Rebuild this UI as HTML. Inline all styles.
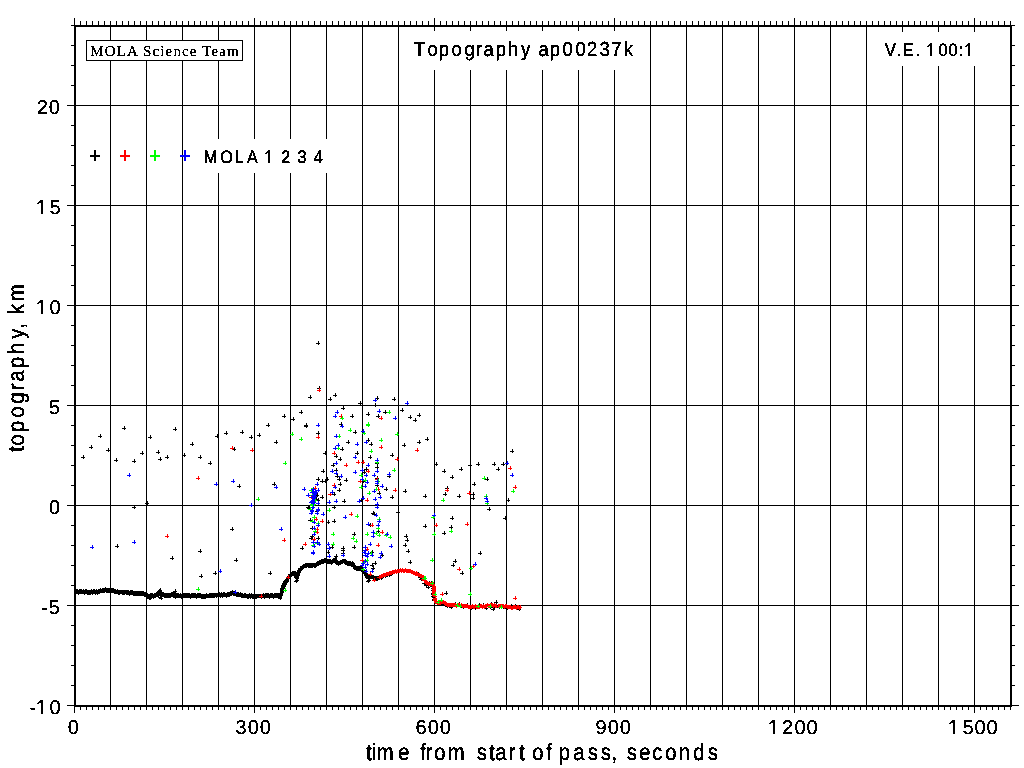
<!DOCTYPE html>
<html><head><meta charset="utf-8"><title>Topography ap00237k</title>
<style>
html,body{margin:0;padding:0;background:#fff;}
body{width:1024px;height:768px;overflow:hidden;position:relative;}
svg{position:absolute;left:0;top:0;}
text{font-family:"Liberation Sans",sans-serif;fill:#000;stroke:#000;stroke-width:0.1px;}
.s{stroke-width:0.1px;}
.c{stroke-width:0.25px;}
.s{font-family:"Liberation Serif",serif;}
</style></head><body>
<svg width="1024" height="768" viewBox="0 0 1024 768" shape-rendering="crispEdges">
<defs><filter id="th" x="0" y="0" width="1024" height="768" filterUnits="userSpaceOnUse" color-interpolation-filters="sRGB"><feComponentTransfer><feFuncA type="discrete" tableValues="0 0 1 1 1"/></feComponentTransfer></filter></defs>
<rect width="1024" height="768" fill="#fff"/>
<path d="M110.5 25V705M146.5 25V705M182.5 25V705M218.5 25V705M254.5 25V705M290.5 25V705M326.5 25V705M362.5 25V705M398.5 25V705M434.5 25V705M470.5 25V705M506.5 25V705M542.5 25V705M578.5 25V705M614.5 25V705M650.5 25V705M686.5 25V705M722.5 25V705M758.5 25V705M794.5 25V705M830.5 25V705M866.5 25V705M902.5 25V705M938.5 25V705M974.5 25V705M75 605.5H1011M75 505.5H1011M75 405.5H1011M75 305.5H1011M75 205.5H1011M75 105.5H1011" stroke="#000" stroke-width="1" fill="none"/>
<path d="M74.5 18V25M74.5 706V713M80.5 21V25M80.5 706V710M86.5 21V25M86.5 706V710M92.5 21V25M92.5 706V710M98.5 21V25M98.5 706V710M104.5 21V25M104.5 706V710M110.5 21V25M110.5 706V710M116.5 21V25M116.5 706V710M122.5 21V25M122.5 706V710M128.5 21V25M128.5 706V710M134.5 21V25M134.5 706V710M140.5 21V25M140.5 706V710M146.5 21V25M146.5 706V710M152.5 21V25M152.5 706V710M158.5 21V25M158.5 706V710M164.5 21V25M164.5 706V710M170.5 21V25M170.5 706V710M176.5 21V25M176.5 706V710M182.5 21V25M182.5 706V710M188.5 21V25M188.5 706V710M194.5 21V25M194.5 706V710M200.5 21V25M200.5 706V710M206.5 21V25M206.5 706V710M212.5 21V25M212.5 706V710M218.5 21V25M218.5 706V710M224.5 21V25M224.5 706V710M230.5 21V25M230.5 706V710M236.5 21V25M236.5 706V710M242.5 21V25M242.5 706V710M248.5 21V25M248.5 706V710M254.5 18V25M254.5 706V713M260.5 21V25M260.5 706V710M266.5 21V25M266.5 706V710M272.5 21V25M272.5 706V710M278.5 21V25M278.5 706V710M284.5 21V25M284.5 706V710M290.5 21V25M290.5 706V710M296.5 21V25M296.5 706V710M302.5 21V25M302.5 706V710M308.5 21V25M308.5 706V710M314.5 21V25M314.5 706V710M320.5 21V25M320.5 706V710M326.5 21V25M326.5 706V710M332.5 21V25M332.5 706V710M338.5 21V25M338.5 706V710M344.5 21V25M344.5 706V710M350.5 21V25M350.5 706V710M356.5 21V25M356.5 706V710M362.5 21V25M362.5 706V710M368.5 21V25M368.5 706V710M374.5 21V25M374.5 706V710M380.5 21V25M380.5 706V710M386.5 21V25M386.5 706V710M392.5 21V25M392.5 706V710M398.5 21V25M398.5 706V710M404.5 21V25M404.5 706V710M410.5 21V25M410.5 706V710M416.5 21V25M416.5 706V710M422.5 21V25M422.5 706V710M428.5 21V25M428.5 706V710M434.5 18V25M434.5 706V713M440.5 21V25M440.5 706V710M446.5 21V25M446.5 706V710M452.5 21V25M452.5 706V710M458.5 21V25M458.5 706V710M464.5 21V25M464.5 706V710M470.5 21V25M470.5 706V710M476.5 21V25M476.5 706V710M482.5 21V25M482.5 706V710M488.5 21V25M488.5 706V710M494.5 21V25M494.5 706V710M500.5 21V25M500.5 706V710M506.5 21V25M506.5 706V710M512.5 21V25M512.5 706V710M518.5 21V25M518.5 706V710M524.5 21V25M524.5 706V710M530.5 21V25M530.5 706V710M536.5 21V25M536.5 706V710M542.5 21V25M542.5 706V710M548.5 21V25M548.5 706V710M554.5 21V25M554.5 706V710M560.5 21V25M560.5 706V710M566.5 21V25M566.5 706V710M572.5 21V25M572.5 706V710M578.5 21V25M578.5 706V710M584.5 21V25M584.5 706V710M590.5 21V25M590.5 706V710M596.5 21V25M596.5 706V710M602.5 21V25M602.5 706V710M608.5 21V25M608.5 706V710M614.5 18V25M614.5 706V713M620.5 21V25M620.5 706V710M626.5 21V25M626.5 706V710M632.5 21V25M632.5 706V710M638.5 21V25M638.5 706V710M644.5 21V25M644.5 706V710M650.5 21V25M650.5 706V710M656.5 21V25M656.5 706V710M662.5 21V25M662.5 706V710M668.5 21V25M668.5 706V710M674.5 21V25M674.5 706V710M680.5 21V25M680.5 706V710M686.5 21V25M686.5 706V710M692.5 21V25M692.5 706V710M698.5 21V25M698.5 706V710M704.5 21V25M704.5 706V710M710.5 21V25M710.5 706V710M716.5 21V25M716.5 706V710M722.5 21V25M722.5 706V710M728.5 21V25M728.5 706V710M734.5 21V25M734.5 706V710M740.5 21V25M740.5 706V710M746.5 21V25M746.5 706V710M752.5 21V25M752.5 706V710M758.5 21V25M758.5 706V710M764.5 21V25M764.5 706V710M770.5 21V25M770.5 706V710M776.5 21V25M776.5 706V710M782.5 21V25M782.5 706V710M788.5 21V25M788.5 706V710M794.5 18V25M794.5 706V713M800.5 21V25M800.5 706V710M806.5 21V25M806.5 706V710M812.5 21V25M812.5 706V710M818.5 21V25M818.5 706V710M824.5 21V25M824.5 706V710M830.5 21V25M830.5 706V710M836.5 21V25M836.5 706V710M842.5 21V25M842.5 706V710M848.5 21V25M848.5 706V710M854.5 21V25M854.5 706V710M860.5 21V25M860.5 706V710M866.5 21V25M866.5 706V710M872.5 21V25M872.5 706V710M878.5 21V25M878.5 706V710M884.5 21V25M884.5 706V710M890.5 21V25M890.5 706V710M896.5 21V25M896.5 706V710M902.5 21V25M902.5 706V710M908.5 21V25M908.5 706V710M914.5 21V25M914.5 706V710M920.5 21V25M920.5 706V710M926.5 21V25M926.5 706V710M932.5 21V25M932.5 706V710M938.5 21V25M938.5 706V710M944.5 21V25M944.5 706V710M950.5 21V25M950.5 706V710M956.5 21V25M956.5 706V710M962.5 21V25M962.5 706V710M968.5 21V25M968.5 706V710M974.5 18V25M974.5 706V713M980.5 21V25M980.5 706V710M986.5 21V25M986.5 706V710M992.5 21V25M992.5 706V710M998.5 21V25M998.5 706V710M1004.5 21V25M1004.5 706V710M1010.5 21V25M1010.5 706V710M67 705.5H74M1012 705.5H1019M71 685.5H74M1012 685.5H1015M71 665.5H74M1012 665.5H1015M71 645.5H74M1012 645.5H1015M71 625.5H74M1012 625.5H1015M67 605.5H74M1012 605.5H1019M71 585.5H74M1012 585.5H1015M71 565.5H74M1012 565.5H1015M71 545.5H74M1012 545.5H1015M71 525.5H74M1012 525.5H1015M67 505.5H74M1012 505.5H1019M71 485.5H74M1012 485.5H1015M71 465.5H74M1012 465.5H1015M71 445.5H74M1012 445.5H1015M71 425.5H74M1012 425.5H1015M67 405.5H74M1012 405.5H1019M71 385.5H74M1012 385.5H1015M71 365.5H74M1012 365.5H1015M71 345.5H74M1012 345.5H1015M71 325.5H74M1012 325.5H1015M67 305.5H74M1012 305.5H1019M71 285.5H74M1012 285.5H1015M71 265.5H74M1012 265.5H1015M71 245.5H74M1012 245.5H1015M71 225.5H74M1012 225.5H1015M67 205.5H74M1012 205.5H1019M71 185.5H74M1012 185.5H1015M71 165.5H74M1012 165.5H1015M71 145.5H74M1012 145.5H1015M71 125.5H74M1012 125.5H1015M67 105.5H74M1012 105.5H1019M71 85.5H74M1012 85.5H1015M71 65.5H74M1012 65.5H1015M71 45.5H74M1012 45.5H1015M71 25.5H74M1012 25.5H1015" stroke="#000" stroke-width="1" fill="none"/>
<path d="M75 25V707M1011 25V707" stroke="#000" stroke-width="2" fill="none"/>
<path d="M74 26H1012M74 706H1012" stroke="#000" stroke-width="2" fill="none"/>
<rect x="405" y="31" width="239" height="39" fill="#fff"/>
<rect x="875" y="32" width="106" height="34" fill="#fff"/>
<rect x="195" y="139" width="138" height="34" fill="#fff"/>
<path d="M315 495.5h4M317.5 493v4M320 497.5h4M322.5 495v4M316 500.5h4M318.5 498v4M314 499.5h4M316.5 497v4M145 503.5h4M147.5 501v4M81 457.5h4M83.5 455v4M89 447.5h4M91.5 445v4M98 436.5h4M100.5 434v4M106 450.5h4M108.5 448v4M114 460.5h4M116.5 458v4M122 428.5h4M124.5 426v4M132 461.5h4M134.5 459v4M140 453.5h4M142.5 451v4M148 437.5h4M150.5 435v4M156 452.5h4M158.5 450v4M158 459.5h4M160.5 457v4M165 457.5h4M167.5 455v4M173 429.5h4M175.5 427v4M182 455.5h4M184.5 453v4M190 444.5h4M192.5 442v4M198 457.5h4M200.5 455v4M208 463.5h4M210.5 461v4M215 436.5h4M217.5 434v4M224 433.5h4M226.5 431v4M232 449.5h4M234.5 447v4M240 432.5h4M242.5 430v4M249 437.5h4M251.5 435v4M257 435.5h4M259.5 433v4M266 425.5h4M268.5 423v4M274 442.5h4M276.5 440v4M282 416.5h4M284.5 414v4M291 419.5h4M293.5 417v4M299 412.5h4M301.5 410v4M304 426.5h4M306.5 424v4M308 397.5h4M310.5 395v4M316 343.5h4M318.5 341v4M237 486.5h4M239.5 484v4M272 484.5h4M274.5 482v4M132 507.5h4M134.5 505v4M115 546.5h4M117.5 544v4M170 558.5h4M172.5 556v4M198 551.5h4M200.5 549v4M199 576.5h4M201.5 574v4M213 573.5h4M215.5 571v4M230 529.5h4M232.5 527v4M234 560.5h4M236.5 558v4M268 573.5h4M270.5 571v4M300 548.5h4M302.5 546v4M317 388.5h4M319.5 386v4M328 399.5h4M330.5 397v4M333 395.5h4M335.5 393v4M358 403.5h4M360.5 401v4M375 398.5h4M377.5 396v4M392 399.5h4M394.5 397v4M341 408.5h4M343.5 406v4M350 416.5h4M352.5 414v4M366 414.5h4M368.5 412v4M383 412.5h4M385.5 410v4M376 416.5h4M378.5 414v4M400 410.5h4M402.5 408v4M408 417.5h4M410.5 415v4M417 415.5h4M419.5 413v4M413 420.5h4M415.5 418v4M339 424.5h4M341.5 422v4M304 425.5h4M306.5 423v4M373 405.5h4M375.5 403v4M316 433.5h4M318.5 431v4M353 432.5h4M355.5 430v4M346 442.5h4M348.5 440v4M340 449.5h4M342.5 447v4M323 453.5h4M325.5 451v4M334 456.5h4M336.5 454v4M338 459.5h4M340.5 457v4M331 465.5h4M333.5 463v4M334 470.5h4M336.5 468v4M321 471.5h4M323.5 469v4M335 476.5h4M337.5 474v4M337 479.5h4M339.5 477v4M344 480.5h4M346.5 478v4M316 479.5h4M318.5 477v4M320 481.5h4M322.5 479v4M323 481.5h4M325.5 479v4M325 479.5h4M327.5 477v4M338 484.5h4M340.5 482v4M337 490.5h4M339.5 488v4M332 494.5h4M334.5 492v4M320 497.5h4M322.5 495v4M342 501.5h4M344.5 499v4M332 507.5h4M334.5 505v4M355 453.5h4M357.5 451v4M366 440.5h4M368.5 438v4M369 444.5h4M371.5 442v4M368 457.5h4M370.5 455v4M375 463.5h4M377.5 461v4M375 467.5h4M377.5 465v4M364 469.5h4M366.5 467v4M362 472.5h4M364.5 470v4M375 478.5h4M377.5 476v4M361 481.5h4M363.5 479v4M375 485.5h4M377.5 483v4M384 489.5h4M386.5 487v4M377 493.5h4M379.5 491v4M390 497.5h4M392.5 495v4M359 500.5h4M361.5 498v4M375 507.5h4M377.5 505v4M371 513.5h4M373.5 511v4M396 512.5h4M398.5 510v4M390 455.5h4M392.5 453v4M387 476.5h4M389.5 474v4M402 445.5h4M404.5 443v4M417 442.5h4M419.5 440v4M425 439.5h4M427.5 437v4M403 491.5h4M405.5 489v4M423 496.5h4M425.5 494v4M306 507.5h4M308.5 505v4M315 511.5h4M317.5 509v4M307 508.5h4M309.5 506v4M308 520.5h4M310.5 518v4M326 522.5h4M328.5 520v4M332 521.5h4M334.5 519v4M310 528.5h4M312.5 526v4M310 536.5h4M312.5 534v4M309 538.5h4M311.5 536v4M316 538.5h4M318.5 536v4M300 548.5h4M302.5 546v4M330 547.5h4M332.5 545v4M326 552.5h4M328.5 550v4M341 548.5h4M343.5 546v4M341 550.5h4M343.5 548v4M341 553.5h4M343.5 551v4M352 534.5h4M354.5 532v4M352 547.5h4M354.5 545v4M372 514.5h4M374.5 512v4M368 525.5h4M370.5 523v4M376 531.5h4M378.5 529v4M370 552.5h4M372.5 550v4M380 555.5h4M382.5 553v4M373 563.5h4M375.5 561v4M370 565.5h4M372.5 563v4M371 568.5h4M373.5 566v4M404 536.5h4M406.5 534v4M405 540.5h4M407.5 538v4M403 545.5h4M405.5 543v4M406 551.5h4M408.5 549v4M408 562.5h4M410.5 560v4M423 526.5h4M425.5 524v4M434 464.5h4M436.5 462v4M442 471.5h4M444.5 469v4M450 477.5h4M452.5 475v4M459 469.5h4M461.5 467v4M468 465.5h4M470.5 463v4M476 464.5h4M478.5 462v4M492 464.5h4M494.5 462v4M496 469.5h4M498.5 467v4M501 464.5h4M503.5 462v4M510 451.5h4M512.5 449v4M485 479.5h4M487.5 477v4M472 484.5h4M474.5 482v4M445 488.5h4M447.5 486v4M443 494.5h4M445.5 492v4M457 496.5h4M459.5 494v4M471 494.5h4M473.5 492v4M471 498.5h4M473.5 496v4M506 500.5h4M508.5 498v4M487 509.5h4M489.5 507v4M449 527.5h4M451.5 525v4M442 533.5h4M444.5 531v4M478 553.5h4M480.5 551v4M453 561.5h4M455.5 559v4M451 565.5h4M453.5 563v4M460 573.5h4M462.5 571v4M444 593.5h4M446.5 591v4M494 602.5h4M496.5 600v4M450 518.5h4M452.5 516v4M503 518.5h4M505.5 516v4" stroke="#000" stroke-width="1" fill="none"/>
<path d="M74 591.5h4M76.5 589v4M74 592.5h4M76.5 590v4M75 591.5h4M77.5 589v4M75 592.5h4M77.5 590v4M76 592.5h4M78.5 590v4M76 593.5h4M78.5 591v4M77 591.5h4M79.5 589v4M77 592.5h4M79.5 590v4M78 591.5h4M80.5 589v4M78 592.5h4M80.5 590v4M79 591.5h4M81.5 589v4M79 592.5h4M81.5 590v4M80 592.5h4M82.5 590v4M80 592.5h4M82.5 590v4M81 591.5h4M83.5 589v4M81 592.5h4M83.5 590v4M82 592.5h4M84.5 590v4M82 593.5h4M84.5 591v4M83 591.5h4M85.5 589v4M83 592.5h4M85.5 590v4M84 591.5h4M86.5 589v4M84 592.5h4M86.5 590v4M85 592.5h4M87.5 590v4M85 593.5h4M87.5 591v4M86 592.5h4M88.5 590v4M86 593.5h4M88.5 591v4M87 592.5h4M89.5 590v4M87 593.5h4M89.5 591v4M88 592.5h4M90.5 590v4M88 593.5h4M90.5 591v4M89 591.5h4M91.5 589v4M89 592.5h4M91.5 590v4M90 592.5h4M92.5 590v4M90 593.5h4M92.5 591v4M91 591.5h4M93.5 589v4M91 592.5h4M93.5 590v4M92 591.5h4M94.5 589v4M92 592.5h4M94.5 590v4M93 592.5h4M95.5 590v4M93 593.5h4M95.5 591v4M94 591.5h4M96.5 589v4M94 592.5h4M96.5 590v4M95 592.5h4M97.5 590v4M95 593.5h4M97.5 591v4M96 591.5h4M98.5 589v4M96 592.5h4M98.5 590v4M97 591.5h4M99.5 589v4M97 592.5h4M99.5 590v4M98 590.5h4M100.5 588v4M98 591.5h4M100.5 589v4M99 591.5h4M101.5 589v4M99 591.5h4M101.5 589v4M100 590.5h4M102.5 588v4M100 591.5h4M102.5 589v4M101 590.5h4M103.5 588v4M101 591.5h4M103.5 589v4M102 590.5h4M104.5 588v4M102 591.5h4M104.5 589v4M103 589.5h4M105.5 587v4M103 590.5h4M105.5 588v4M104 590.5h4M106.5 588v4M104 591.5h4M106.5 589v4M105 590.5h4M107.5 588v4M105 591.5h4M107.5 589v4M106 590.5h4M108.5 588v4M106 591.5h4M108.5 589v4M107 590.5h4M109.5 588v4M107 591.5h4M109.5 589v4M108 591.5h4M110.5 589v4M108 591.5h4M110.5 589v4M109 590.5h4M111.5 588v4M109 591.5h4M111.5 589v4M110 590.5h4M112.5 588v4M110 591.5h4M112.5 589v4M111 590.5h4M113.5 588v4M111 591.5h4M113.5 589v4M112 591.5h4M114.5 589v4M112 592.5h4M114.5 590v4M113 591.5h4M115.5 589v4M113 592.5h4M115.5 590v4M114 592.5h4M116.5 590v4M114 592.5h4M116.5 590v4M115 591.5h4M117.5 589v4M115 592.5h4M117.5 590v4M116 592.5h4M118.5 590v4M116 593.5h4M118.5 591v4M117 592.5h4M119.5 590v4M117 593.5h4M119.5 591v4M118 592.5h4M120.5 590v4M118 592.5h4M120.5 590v4M119 592.5h4M121.5 590v4M119 592.5h4M121.5 590v4M120 592.5h4M122.5 590v4M120 593.5h4M122.5 591v4M121 592.5h4M123.5 590v4M121 593.5h4M123.5 591v4M122 592.5h4M124.5 590v4M122 593.5h4M124.5 591v4M123 592.5h4M125.5 590v4M123 592.5h4M125.5 590v4M124 592.5h4M126.5 590v4M124 593.5h4M126.5 591v4M125 592.5h4M127.5 590v4M125 593.5h4M127.5 591v4M126 592.5h4M128.5 590v4M126 593.5h4M128.5 591v4M127 593.5h4M129.5 591v4M127 594.5h4M129.5 592v4M128 592.5h4M130.5 590v4M128 593.5h4M130.5 591v4M129 592.5h4M131.5 590v4M129 593.5h4M131.5 591v4M130 592.5h4M132.5 590v4M130 593.5h4M132.5 591v4M131 593.5h4M133.5 591v4M131 594.5h4M133.5 592v4M132 593.5h4M134.5 591v4M132 594.5h4M134.5 592v4M133 593.5h4M135.5 591v4M133 594.5h4M135.5 592v4M134 593.5h4M136.5 591v4M134 594.5h4M136.5 592v4M135 593.5h4M137.5 591v4M135 594.5h4M137.5 592v4M136 593.5h4M138.5 591v4M136 594.5h4M138.5 592v4M137 593.5h4M139.5 591v4M137 594.5h4M139.5 592v4M138 593.5h4M140.5 591v4M138 594.5h4M140.5 592v4M139 593.5h4M141.5 591v4M139 594.5h4M141.5 592v4M140 593.5h4M142.5 591v4M140 594.5h4M142.5 592v4M141 593.5h4M143.5 591v4M141 594.5h4M143.5 592v4M142 594.5h4M144.5 592v4M142 595.5h4M144.5 593v4M143 594.5h4M145.5 592v4M143 595.5h4M145.5 593v4M144 594.5h4M146.5 592v4M144 595.5h4M146.5 593v4M145 595.5h4M147.5 593v4M145 596.5h4M147.5 594v4M146 596.5h4M148.5 594v4M146 596.5h4M148.5 594v4M147 596.5h4M149.5 594v4M147 597.5h4M149.5 595v4M148 595.5h4M150.5 593v4M148 596.5h4M150.5 594v4M149 595.5h4M151.5 593v4M149 596.5h4M151.5 594v4M150 595.5h4M152.5 593v4M150 596.5h4M152.5 594v4M151 596.5h4M153.5 594v4M151 597.5h4M153.5 595v4M152 595.5h4M154.5 593v4M152 596.5h4M154.5 594v4M153 595.5h4M155.5 593v4M153 596.5h4M155.5 594v4M154 594.5h4M156.5 592v4M154 595.5h4M156.5 593v4M155 594.5h4M157.5 592v4M155 595.5h4M157.5 593v4M156 594.5h4M158.5 592v4M156 595.5h4M158.5 593v4M157 593.5h4M159.5 591v4M157 594.5h4M159.5 592v4M158 593.5h4M160.5 591v4M158 594.5h4M160.5 592v4M159 593.5h4M161.5 591v4M159 594.5h4M161.5 592v4M160 594.5h4M162.5 592v4M160 595.5h4M162.5 593v4M161 594.5h4M163.5 592v4M161 595.5h4M163.5 593v4M162 595.5h4M164.5 593v4M162 596.5h4M164.5 594v4M163 595.5h4M165.5 593v4M163 596.5h4M165.5 594v4M164 595.5h4M166.5 593v4M164 596.5h4M166.5 594v4M165 595.5h4M167.5 593v4M165 596.5h4M167.5 594v4M166 595.5h4M168.5 593v4M166 596.5h4M168.5 594v4M167 595.5h4M169.5 593v4M167 596.5h4M169.5 594v4M168 595.5h4M170.5 593v4M168 596.5h4M170.5 594v4M169 594.5h4M171.5 592v4M169 595.5h4M171.5 593v4M170 594.5h4M172.5 592v4M170 595.5h4M172.5 593v4M171 594.5h4M173.5 592v4M171 595.5h4M173.5 593v4M172 594.5h4M174.5 592v4M172 595.5h4M174.5 593v4M173 595.5h4M175.5 593v4M173 595.5h4M175.5 593v4M174 595.5h4M176.5 593v4M174 596.5h4M176.5 594v4M175 595.5h4M177.5 593v4M175 596.5h4M177.5 594v4M176 595.5h4M178.5 593v4M176 596.5h4M178.5 594v4M177 596.5h4M179.5 594v4M177 596.5h4M179.5 594v4M178 595.5h4M180.5 593v4M178 596.5h4M180.5 594v4M179 596.5h4M181.5 594v4M179 597.5h4M181.5 595v4M180 595.5h4M182.5 593v4M180 596.5h4M182.5 594v4M181 595.5h4M183.5 593v4M181 596.5h4M183.5 594v4M182 595.5h4M184.5 593v4M182 596.5h4M184.5 594v4M183 595.5h4M185.5 593v4M183 596.5h4M185.5 594v4M184 595.5h4M186.5 593v4M184 596.5h4M186.5 594v4M185 595.5h4M187.5 593v4M185 596.5h4M187.5 594v4M186 595.5h4M188.5 593v4M186 596.5h4M188.5 594v4M187 595.5h4M189.5 593v4M187 596.5h4M189.5 594v4M188 596.5h4M190.5 594v4M188 597.5h4M190.5 595v4M189 595.5h4M191.5 593v4M189 596.5h4M191.5 594v4M190 595.5h4M192.5 593v4M190 596.5h4M192.5 594v4M191 595.5h4M193.5 593v4M191 596.5h4M193.5 594v4M192 595.5h4M194.5 593v4M192 596.5h4M194.5 594v4M193 595.5h4M195.5 593v4M193 596.5h4M195.5 594v4M194 596.5h4M196.5 594v4M194 597.5h4M196.5 595v4M195 595.5h4M197.5 593v4M195 596.5h4M197.5 594v4M196 595.5h4M198.5 593v4M196 596.5h4M198.5 594v4M197 595.5h4M199.5 593v4M197 596.5h4M199.5 594v4M198 595.5h4M200.5 593v4M198 596.5h4M200.5 594v4M199 596.5h4M201.5 594v4M199 597.5h4M201.5 595v4M200 596.5h4M202.5 594v4M200 597.5h4M202.5 595v4M201 596.5h4M203.5 594v4M201 597.5h4M203.5 595v4M202 596.5h4M204.5 594v4M202 597.5h4M204.5 595v4M203 596.5h4M205.5 594v4M203 597.5h4M205.5 595v4M204 595.5h4M206.5 593v4M204 596.5h4M206.5 594v4M205 596.5h4M207.5 594v4M205 596.5h4M207.5 594v4M206 596.5h4M208.5 594v4M206 596.5h4M208.5 594v4M207 595.5h4M209.5 593v4M207 596.5h4M209.5 594v4M208 595.5h4M210.5 593v4M208 596.5h4M210.5 594v4M209 595.5h4M211.5 593v4M209 596.5h4M211.5 594v4M210 595.5h4M212.5 593v4M210 596.5h4M212.5 594v4M211 595.5h4M213.5 593v4M211 596.5h4M213.5 594v4M212 595.5h4M214.5 593v4M212 596.5h4M214.5 594v4M213 595.5h4M215.5 593v4M213 595.5h4M215.5 593v4M214 595.5h4M216.5 593v4M214 596.5h4M216.5 594v4M215 595.5h4M217.5 593v4M215 595.5h4M217.5 593v4M216 595.5h4M218.5 593v4M216 595.5h4M218.5 593v4M217 594.5h4M219.5 592v4M217 595.5h4M219.5 593v4M218 595.5h4M220.5 593v4M218 596.5h4M220.5 594v4M219 594.5h4M221.5 592v4M219 595.5h4M221.5 593v4M220 595.5h4M222.5 593v4M220 596.5h4M222.5 594v4M221 594.5h4M223.5 592v4M221 595.5h4M223.5 593v4M222 594.5h4M224.5 592v4M222 595.5h4M224.5 593v4M223 595.5h4M225.5 593v4M223 595.5h4M225.5 593v4M224 595.5h4M226.5 593v4M224 596.5h4M226.5 594v4M225 594.5h4M227.5 592v4M225 595.5h4M227.5 593v4M226 594.5h4M228.5 592v4M226 595.5h4M228.5 593v4M227 594.5h4M229.5 592v4M227 595.5h4M229.5 593v4M228 593.5h4M230.5 591v4M228 594.5h4M230.5 592v4M229 593.5h4M231.5 591v4M229 594.5h4M231.5 592v4M230 592.5h4M232.5 590v4M230 593.5h4M232.5 591v4M230 592.5h4M232.5 590v4M230 593.5h4M232.5 591v4M231 593.5h4M233.5 591v4M231 594.5h4M233.5 592v4M232 593.5h4M234.5 591v4M232 594.5h4M234.5 592v4M233 593.5h4M235.5 591v4M233 594.5h4M235.5 592v4M234 594.5h4M236.5 592v4M234 595.5h4M236.5 593v4M235 594.5h4M237.5 592v4M235 595.5h4M237.5 593v4M236 594.5h4M238.5 592v4M236 595.5h4M238.5 593v4M237 595.5h4M239.5 593v4M237 595.5h4M239.5 593v4M238 594.5h4M240.5 592v4M238 595.5h4M240.5 593v4M239 595.5h4M241.5 593v4M239 596.5h4M241.5 594v4M240 595.5h4M242.5 593v4M240 596.5h4M242.5 594v4M241 596.5h4M243.5 594v4M241 596.5h4M243.5 594v4M242 595.5h4M244.5 593v4M242 596.5h4M244.5 594v4M243 595.5h4M245.5 593v4M243 596.5h4M245.5 594v4M244 596.5h4M246.5 594v4M244 596.5h4M246.5 594v4M245 596.5h4M247.5 594v4M245 597.5h4M247.5 595v4M246 596.5h4M248.5 594v4M246 597.5h4M248.5 595v4M247 595.5h4M249.5 593v4M247 596.5h4M249.5 594v4M248 596.5h4M250.5 594v4M248 597.5h4M250.5 595v4M249 595.5h4M251.5 593v4M249 596.5h4M251.5 594v4M250 596.5h4M252.5 594v4M250 597.5h4M252.5 595v4M251 596.5h4M253.5 594v4M251 597.5h4M253.5 595v4M252 596.5h4M254.5 594v4M252 597.5h4M254.5 595v4M253 596.5h4M255.5 594v4M253 597.5h4M255.5 595v4M254 596.5h4M256.5 594v4M254 597.5h4M256.5 595v4M255 596.5h4M257.5 594v4M255 596.5h4M257.5 594v4M256 596.5h4M258.5 594v4M256 596.5h4M258.5 594v4M257 596.5h4M259.5 594v4M257 596.5h4M259.5 594v4M258 596.5h4M260.5 594v4M258 596.5h4M260.5 594v4M259 596.5h4M261.5 594v4M259 597.5h4M261.5 595v4M260 596.5h4M262.5 594v4M260 596.5h4M262.5 594v4M261 595.5h4M263.5 593v4M261 596.5h4M263.5 594v4M262 596.5h4M264.5 594v4M262 597.5h4M264.5 595v4M263 595.5h4M265.5 593v4M263 596.5h4M265.5 594v4M264 595.5h4M266.5 593v4M264 596.5h4M266.5 594v4M265 595.5h4M267.5 593v4M265 596.5h4M267.5 594v4M266 595.5h4M268.5 593v4M266 596.5h4M268.5 594v4M267 596.5h4M269.5 594v4M267 597.5h4M269.5 595v4M268 595.5h4M270.5 593v4M268 596.5h4M270.5 594v4M269 595.5h4M271.5 593v4M269 596.5h4M271.5 594v4M270 595.5h4M272.5 593v4M270 596.5h4M272.5 594v4M271 596.5h4M273.5 594v4M271 597.5h4M273.5 595v4M272 595.5h4M274.5 593v4M272 596.5h4M274.5 594v4M273 595.5h4M275.5 593v4M273 596.5h4M275.5 594v4M274 595.5h4M276.5 593v4M274 596.5h4M276.5 594v4M275 595.5h4M277.5 593v4M275 596.5h4M277.5 594v4M276 595.5h4M278.5 593v4M276 596.5h4M278.5 594v4M277 596.5h4M279.5 594v4M277 597.5h4M279.5 595v4M278 597.5h4M280.5 595v4M278 598.5h4M280.5 596v4M278 596.5h4M280.5 594v4M278 596.5h4M280.5 594v4M279 595.5h4M281.5 593v4M279 595.5h4M281.5 593v4M279 594.5h4M281.5 592v4M279 594.5h4M281.5 592v4M279 593.5h4M281.5 591v4M279 594.5h4M281.5 592v4M280 591.5h4M282.5 589v4M280 592.5h4M282.5 590v4M280 591.5h4M282.5 589v4M280 592.5h4M282.5 590v4M280 590.5h4M282.5 588v4M280 590.5h4M282.5 588v4M280 588.5h4M282.5 586v4M280 589.5h4M282.5 587v4M281 587.5h4M283.5 585v4M281 588.5h4M283.5 586v4M281 587.5h4M283.5 585v4M281 588.5h4M283.5 586v4M281 585.5h4M283.5 583v4M281 586.5h4M283.5 584v4M282 585.5h4M284.5 583v4M282 586.5h4M284.5 584v4M282 583.5h4M284.5 581v4M282 584.5h4M284.5 582v4M283 583.5h4M285.5 581v4M283 584.5h4M285.5 582v4M283 581.5h4M285.5 579v4M283 582.5h4M285.5 580v4M284 580.5h4M286.5 578v4M284 581.5h4M286.5 579v4M285 580.5h4M287.5 578v4M285 581.5h4M287.5 579v4M285 579.5h4M287.5 577v4M285 580.5h4M287.5 578v4M286 578.5h4M288.5 576v4M286 578.5h4M288.5 576v4M287 576.5h4M289.5 574v4M287 577.5h4M289.5 575v4M288 575.5h4M290.5 573v4M288 576.5h4M290.5 574v4M288 574.5h4M290.5 572v4M288 575.5h4M290.5 573v4M289 574.5h4M291.5 572v4M289 575.5h4M291.5 573v4M290 573.5h4M292.5 571v4M290 574.5h4M292.5 572v4M291 573.5h4M293.5 571v4M291 574.5h4M293.5 572v4M292 573.5h4M294.5 571v4M292 574.5h4M294.5 572v4M293 573.5h4M295.5 571v4M293 573.5h4M295.5 571v4M294 574.5h4M296.5 572v4M294 575.5h4M296.5 573v4M294 575.5h4M296.5 573v4M294 575.5h4M296.5 573v4M294 576.5h4M296.5 574v4M294 576.5h4M296.5 574v4M294 577.5h4M296.5 575v4M294 577.5h4M296.5 575v4M295 577.5h4M297.5 575v4M295 578.5h4M297.5 576v4M295 576.5h4M297.5 574v4M295 577.5h4M297.5 575v4M295 575.5h4M297.5 573v4M295 576.5h4M297.5 574v4M295 575.5h4M297.5 573v4M295 575.5h4M297.5 573v4M296 574.5h4M298.5 572v4M296 575.5h4M298.5 573v4M296 573.5h4M298.5 571v4M296 573.5h4M298.5 571v4M297 571.5h4M299.5 569v4M297 572.5h4M299.5 570v4M297 570.5h4M299.5 568v4M297 571.5h4M299.5 569v4M298 569.5h4M300.5 567v4M298 570.5h4M300.5 568v4M298 568.5h4M300.5 566v4M298 569.5h4M300.5 567v4M299 568.5h4M301.5 566v4M299 568.5h4M301.5 566v4M300 567.5h4M302.5 565v4M300 568.5h4M302.5 566v4M301 566.5h4M303.5 564v4M301 567.5h4M303.5 565v4M302 566.5h4M304.5 564v4M302 566.5h4M304.5 564v4M303 565.5h4M305.5 563v4M303 566.5h4M305.5 564v4M304 565.5h4M306.5 563v4M304 566.5h4M306.5 564v4M305 565.5h4M307.5 563v4M305 565.5h4M307.5 563v4M306 565.5h4M308.5 563v4M306 566.5h4M308.5 564v4M307 565.5h4M309.5 563v4M307 566.5h4M309.5 564v4M308 565.5h4M310.5 563v4M308 566.5h4M310.5 564v4M309 565.5h4M311.5 563v4M309 566.5h4M311.5 564v4M310 565.5h4M312.5 563v4M310 566.5h4M312.5 564v4M311 565.5h4M313.5 563v4M311 565.5h4M313.5 563v4M312 565.5h4M314.5 563v4M312 566.5h4M314.5 564v4M313 565.5h4M315.5 563v4M313 566.5h4M315.5 564v4M314 564.5h4M316.5 562v4M314 565.5h4M316.5 563v4M315 563.5h4M317.5 561v4M315 564.5h4M317.5 562v4M316 563.5h4M318.5 561v4M316 564.5h4M318.5 562v4M317 562.5h4M319.5 560v4M317 563.5h4M319.5 561v4M318 562.5h4M320.5 560v4M318 563.5h4M320.5 561v4M319 561.5h4M321.5 559v4M319 562.5h4M321.5 560v4M320 561.5h4M322.5 559v4M320 562.5h4M322.5 560v4M321 561.5h4M323.5 559v4M321 562.5h4M323.5 560v4M321 561.5h4M323.5 559v4M321 562.5h4M323.5 560v4M322 560.5h4M324.5 558v4M322 561.5h4M324.5 559v4M323 560.5h4M325.5 558v4M323 561.5h4M325.5 559v4M324 561.5h4M326.5 559v4M324 561.5h4M326.5 559v4M325 561.5h4M327.5 559v4M325 562.5h4M327.5 560v4M326 561.5h4M328.5 559v4M326 562.5h4M328.5 560v4M327 561.5h4M329.5 559v4M327 562.5h4M329.5 560v4M328 561.5h4M330.5 559v4M328 562.5h4M330.5 560v4M329 562.5h4M331.5 560v4M329 563.5h4M331.5 561v4M330 561.5h4M332.5 559v4M330 561.5h4M332.5 559v4M331 560.5h4M333.5 558v4M331 561.5h4M333.5 559v4M332 560.5h4M334.5 558v4M332 561.5h4M334.5 559v4M333 559.5h4M335.5 557v4M333 560.5h4M335.5 558v4M334 560.5h4M336.5 558v4M334 561.5h4M336.5 559v4M334 561.5h4M336.5 559v4M334 562.5h4M336.5 560v4M335 562.5h4M337.5 560v4M335 563.5h4M337.5 561v4M336 563.5h4M338.5 561v4M336 564.5h4M338.5 562v4M337 563.5h4M339.5 561v4M337 563.5h4M339.5 561v4M338 562.5h4M340.5 560v4M338 563.5h4M340.5 561v4M339 562.5h4M341.5 560v4M339 562.5h4M341.5 560v4M340 561.5h4M342.5 559v4M340 562.5h4M342.5 560v4M341 561.5h4M343.5 559v4M341 561.5h4M343.5 559v4M342 561.5h4M344.5 559v4M342 562.5h4M344.5 560v4M343 561.5h4M345.5 559v4M343 562.5h4M345.5 560v4M344 562.5h4M346.5 560v4M344 563.5h4M346.5 561v4M345 563.5h4M347.5 561v4M345 564.5h4M347.5 562v4M346 563.5h4M348.5 561v4M346 564.5h4M348.5 562v4M347 563.5h4M349.5 561v4M347 564.5h4M349.5 562v4M348 563.5h4M350.5 561v4M348 564.5h4M350.5 562v4M349 564.5h4M351.5 562v4M349 565.5h4M351.5 563v4M350 563.5h4M352.5 561v4M350 564.5h4M352.5 562v4M351 564.5h4M353.5 562v4M351 565.5h4M353.5 563v4M351 565.5h4M353.5 563v4M351 566.5h4M353.5 564v4M352 565.5h4M354.5 563v4M352 566.5h4M354.5 564v4M353 567.5h4M355.5 565v4M353 568.5h4M355.5 566v4M354 568.5h4M356.5 566v4M354 569.5h4M356.5 567v4M355 568.5h4M357.5 566v4M355 569.5h4M357.5 567v4M356 568.5h4M358.5 566v4M356 569.5h4M358.5 567v4M357 568.5h4M359.5 566v4M357 569.5h4M359.5 567v4M358 568.5h4M360.5 566v4M358 569.5h4M360.5 567v4M359 567.5h4M361.5 565v4M359 568.5h4M361.5 566v4M360 568.5h4M362.5 566v4M360 569.5h4M362.5 567v4M361 570.5h4M363.5 568v4M361 571.5h4M363.5 569v4M362 571.5h4M364.5 569v4M362 572.5h4M364.5 570v4M363 572.5h4M365.5 570v4M363 573.5h4M365.5 571v4M364 573.5h4M366.5 571v4M364 574.5h4M366.5 572v4M364 574.5h4M366.5 572v4M364 575.5h4M366.5 573v4M365 575.5h4M367.5 573v4M365 576.5h4M367.5 574v4M365 576.5h4M367.5 574v4M365 577.5h4M367.5 575v4M366 577.5h4M368.5 575v4M366 578.5h4M368.5 576v4M367 577.5h4M369.5 575v4M367 578.5h4M369.5 576v4M368 576.5h4M370.5 574v4M368 577.5h4M370.5 575v4M369 576.5h4M371.5 574v4M369 577.5h4M371.5 575v4M370 577.5h4M372.5 575v4M370 577.5h4M372.5 575v4M371 577.5h4M373.5 575v4M371 578.5h4M373.5 576v4M372 578.5h4M374.5 576v4M372 578.5h4M374.5 576v4M373 578.5h4M375.5 576v4M373 579.5h4M375.5 577v4M374 578.5h4M376.5 576v4M374 579.5h4M376.5 577v4M375 578.5h4M377.5 576v4M375 579.5h4M377.5 577v4M376 578.5h4M378.5 576v4M376 578.5h4M378.5 576v4M158 590.5h4M160.5 588v4M158 597.5h4M160.5 595v4M159 598.5h4M161.5 596v4M157 591.5h4M159.5 589v4M173 591.5h4M175.5 589v4M173 597.5h4M175.5 595v4M147 598.5h4M149.5 596v4M148 598.5h4M150.5 596v4M334 556.5h4M336.5 554v4M295 580.5h4M297.5 578v4M294 581.5h4M296.5 579v4M367 580.5h4M369.5 578v4M366 581.5h4M368.5 579v4" stroke="#000" stroke-width="1" fill="none"/>
<path d="M377 578.5h4M379.5 576v4M379 578.5h4M381.5 576v4M381 576.5h4M383.5 574v4M383 576.5h4M385.5 574v4M385 575.5h4M387.5 573v4M387 575.5h4M389.5 573v4M389 574.5h4M391.5 572v4M414 573.5h4M416.5 571v4M416 574.5h4M418.5 572v4M418 577.5h4M420.5 575v4M420 578.5h4M422.5 576v4M421 579.5h4M423.5 577v4M423 583.5h4M425.5 581v4M425 583.5h4M427.5 581v4M427 583.5h4M429.5 581v4M429 583.5h4M431.5 581v4M430 586.5h4M432.5 584v4M431 588.5h4M433.5 586v4M431 590.5h4M433.5 588v4M431 590.5h4M433.5 588v4M431 594.5h4M433.5 592v4M431 596.5h4M433.5 594v4M432 597.5h4M434.5 595v4M432 599.5h4M434.5 597v4M433 600.5h4M435.5 598v4M437 602.5h4M439.5 600v4M441 604.5h4M443.5 602v4M445 606.5h4M447.5 604v4M449 607.5h4M451.5 605v4M453 604.5h4M455.5 602v4M457 604.5h4M459.5 602v4M461 607.5h4M463.5 605v4M465 605.5h4M467.5 603v4M469 608.5h4M471.5 606v4M473 608.5h4M475.5 606v4M477 605.5h4M479.5 603v4M481 605.5h4M483.5 603v4M484 608.5h4M486.5 606v4M488 607.5h4M490.5 605v4M492 607.5h4M494.5 605v4M497 607.5h4M499.5 605v4M501 607.5h4M503.5 605v4M505 608.5h4M507.5 606v4M509 606.5h4M511.5 604v4M513 606.5h4M515.5 604v4M517 609.5h4M519.5 607v4M431 590.5h4M433.5 588v4M431 593.5h4M433.5 591v4M431 596.5h4M433.5 594v4M432 600.5h4M434.5 598v4M419 579.5h4M421.5 577v4M422 583.5h4M424.5 581v4M424 585.5h4M426.5 583v4M426 587.5h4M428.5 585v4M489 604.5h4M491.5 602v4M491 609.5h4M493.5 607v4" stroke="#000" stroke-width="1" fill="none"/>
<path d="M377 577.5h4M379.5 575v4M378 577.5h4M380.5 575v4M379 576.5h4M381.5 574v4M380 576.5h4M382.5 574v4M381 575.5h4M383.5 573v4M382 575.5h4M384.5 573v4M383 575.5h4M385.5 573v4M384 574.5h4M386.5 572v4M385 574.5h4M387.5 572v4M386 574.5h4M388.5 572v4M387 573.5h4M389.5 571v4M388 573.5h4M390.5 571v4M389 573.5h4M391.5 571v4M390 572.5h4M392.5 570v4M391 572.5h4M393.5 570v4M392 572.5h4M394.5 570v4M393 571.5h4M395.5 569v4M394 572.5h4M396.5 570v4M395 571.5h4M397.5 569v4M396 571.5h4M398.5 569v4M397 571.5h4M399.5 569v4M398 570.5h4M400.5 568v4M399 571.5h4M401.5 569v4M400 570.5h4M402.5 568v4M401 571.5h4M403.5 569v4M402 571.5h4M404.5 569v4M403 570.5h4M405.5 568v4M404 571.5h4M406.5 569v4M405 571.5h4M407.5 569v4M406 571.5h4M408.5 569v4M407 571.5h4M409.5 569v4M408 571.5h4M410.5 569v4M409 572.5h4M411.5 570v4M410 572.5h4M412.5 570v4M411 573.5h4M413.5 571v4M412 573.5h4M414.5 571v4M413 574.5h4M415.5 572v4M414 573.5h4M416.5 571v4M415 574.5h4M417.5 572v4M416 575.5h4M418.5 573v4M417 575.5h4M419.5 573v4M418 576.5h4M420.5 574v4M419 576.5h4M421.5 574v4M420 577.5h4M422.5 575v4M421 577.5h4M423.5 575v4M421 579.5h4M423.5 577v4M422 580.5h4M424.5 578v4M423 580.5h4M425.5 578v4M424 582.5h4M426.5 580v4M425 583.5h4M427.5 581v4M426 584.5h4M428.5 582v4M427 584.5h4M429.5 582v4M428 584.5h4M430.5 582v4M429 584.5h4M431.5 582v4M430 584.5h4M432.5 582v4M431 584.5h4M433.5 582v4M431 585.5h4M433.5 583v4M432 586.5h4M434.5 584v4M432 587.5h4M434.5 585v4M432 588.5h4M434.5 586v4M432 589.5h4M434.5 587v4M432 590.5h4M434.5 588v4M432 591.5h4M434.5 589v4M432 592.5h4M434.5 590v4M432 593.5h4M434.5 591v4M432 594.5h4M434.5 592v4M432 595.5h4M434.5 593v4M433 596.5h4M435.5 594v4M433 598.5h4M435.5 596v4M433 599.5h4M435.5 597v4M433 600.5h4M435.5 598v4M433 600.5h4M435.5 598v4M434 601.5h4M436.5 599v4M434 602.5h4M436.5 600v4M435 603.5h4M437.5 601v4M436 603.5h4M438.5 601v4M437 603.5h4M439.5 601v4M438 603.5h4M440.5 601v4M439 602.5h4M441.5 600v4M440 602.5h4M442.5 600v4M441 602.5h4M443.5 600v4M442 603.5h4M444.5 601v4M443 603.5h4M445.5 601v4M444 604.5h4M446.5 602v4M445 605.5h4M447.5 603v4M446 605.5h4M448.5 603v4M447 605.5h4M449.5 603v4M448 605.5h4M450.5 603v4M449 605.5h4M451.5 603v4M450 605.5h4M452.5 603v4M451 605.5h4M453.5 603v4M452 605.5h4M454.5 603v4M453 605.5h4M455.5 603v4M454 606.5h4M456.5 604v4M455 605.5h4M457.5 603v4M456 605.5h4M458.5 603v4M457 605.5h4M459.5 603v4M458 606.5h4M460.5 604v4M459 605.5h4M461.5 603v4M460 606.5h4M462.5 604v4M461 606.5h4M463.5 604v4M462 606.5h4M464.5 604v4M463 606.5h4M465.5 604v4M464 606.5h4M466.5 604v4M465 606.5h4M467.5 604v4M466 607.5h4M468.5 605v4M467 607.5h4M469.5 605v4M468 607.5h4M470.5 605v4M469 607.5h4M471.5 605v4M470 606.5h4M472.5 604v4M471 607.5h4M473.5 605v4M472 607.5h4M474.5 605v4M473 606.5h4M475.5 604v4M474 607.5h4M476.5 605v4M475 607.5h4M477.5 605v4M476 607.5h4M478.5 605v4M477 607.5h4M479.5 605v4M478 606.5h4M480.5 604v4M479 606.5h4M481.5 604v4M480 607.5h4M482.5 605v4M481 606.5h4M483.5 604v4M481 606.5h4M483.5 604v4M482 607.5h4M484.5 605v4M483 606.5h4M485.5 604v4M484 606.5h4M486.5 604v4M485 605.5h4M487.5 603v4M486 606.5h4M488.5 604v4M487 606.5h4M489.5 604v4M488 605.5h4M490.5 603v4M489 605.5h4M491.5 603v4M490 605.5h4M492.5 603v4M491 606.5h4M493.5 604v4M492 605.5h4M494.5 603v4M493 606.5h4M495.5 604v4M494 606.5h4M496.5 604v4M496 606.5h4M498.5 604v4M497 606.5h4M499.5 604v4M498 606.5h4M500.5 604v4M499 606.5h4M501.5 604v4M500 606.5h4M502.5 604v4M501 606.5h4M503.5 604v4M502 607.5h4M504.5 605v4M503 606.5h4M505.5 604v4M504 606.5h4M506.5 604v4M505 607.5h4M507.5 605v4M506 607.5h4M508.5 605v4M507 607.5h4M509.5 605v4M508 607.5h4M510.5 605v4M509 608.5h4M511.5 606v4M510 608.5h4M512.5 606v4M511 607.5h4M513.5 605v4M512 607.5h4M514.5 605v4M513 607.5h4M515.5 605v4M514 608.5h4M516.5 606v4M515 607.5h4M517.5 605v4M516 607.5h4M518.5 605v4M517 608.5h4M519.5 606v4M518 607.5h4M520.5 605v4" stroke="#f00" stroke-width="1" fill="none"/>
<path d="M313 488.5h4M315.5 486v4M311 498.5h4M313.5 496v4M309 497.5h4M311.5 495v4M230 448.5h4M232.5 446v4M250 450.5h4M252.5 448v4M196 478.5h4M198.5 476v4M317 390.5h4M319.5 388v4M339 416.5h4M341.5 414v4M379 418.5h4M381.5 416v4M165 536.5h4M167.5 534v4M282 540.5h4M284.5 538v4M303 544.5h4M305.5 542v4M286 577.5h4M288.5 575v4M259 596.5h4M261.5 594v4M316 437.5h4M318.5 435v4M332 453.5h4M334.5 451v4M344 465.5h4M346.5 463v4M356 462.5h4M358.5 460v4M361 462.5h4M363.5 460v4M366 471.5h4M368.5 469v4M358 481.5h4M360.5 479v4M332 485.5h4M334.5 483v4M328 494.5h4M330.5 492v4M365 500.5h4M367.5 498v4M375 479.5h4M377.5 477v4M376 489.5h4M378.5 487v4M393 490.5h4M395.5 488v4M379 447.5h4M381.5 445v4M395 459.5h4M397.5 457v4M415 450.5h4M417.5 448v4M313 488.5h4M315.5 486v4M349 514.5h4M351.5 512v4M320 521.5h4M322.5 519v4M314 519.5h4M316.5 517v4M315 529.5h4M317.5 527v4M315 532.5h4M317.5 530v4M312 539.5h4M314.5 537v4M303 544.5h4M305.5 542v4M370 525.5h4M372.5 523v4M380 532.5h4M382.5 530v4M376 545.5h4M378.5 543v4M365 549.5h4M367.5 547v4M360 560.5h4M362.5 558v4M368 574.5h4M370.5 572v4M372 580.5h4M374.5 578v4M445 490.5h4M447.5 488v4M467 493.5h4M469.5 491v4M508 468.5h4M510.5 466v4M513 487.5h4M515.5 485v4M434 525.5h4M436.5 523v4M465 524.5h4M467.5 522v4M457 569.5h4M459.5 567v4M471 566.5h4M473.5 564v4M440 594.5h4M442.5 592v4M513 598.5h4M515.5 596v4" stroke="#f00" stroke-width="1" fill="none"/>
<path d="M309 490.5h4M311.5 488v4M310 495.5h4M312.5 493v4M312 495.5h4M314.5 493v4M312 504.5h4M314.5 502v4M310 505.5h4M312.5 503v4M313 500.5h4M315.5 498v4M308 509.5h4M310.5 507v4M290 434.5h4M292.5 432v4M299 439.5h4M301.5 437v4M283 463.5h4M285.5 461v4M256 499.5h4M258.5 497v4M196 589.5h4M198.5 587v4M283 590.5h4M285.5 588v4M340 418.5h4M342.5 416v4M387 412.5h4M389.5 410v4M366 424.5h4M368.5 422v4M348 430.5h4M350.5 428v4M337 436.5h4M339.5 434v4M366 425.5h4M368.5 423v4M362 433.5h4M364.5 431v4M379 440.5h4M381.5 438v4M395 434.5h4M397.5 432v4M369 451.5h4M371.5 449v4M336 448.5h4M338.5 446v4M375 462.5h4M377.5 460v4M392 470.5h4M394.5 468v4M359 475.5h4M361.5 473v4M363 480.5h4M365.5 478v4M359 487.5h4M361.5 485v4M367 493.5h4M369.5 491v4M374 489.5h4M376.5 487v4M376 481.5h4M378.5 479v4M327 510.5h4M329.5 508v4M310 490.5h4M312.5 488v4M310 504.5h4M312.5 502v4M310 507.5h4M312.5 505v4M355 516.5h4M357.5 514v4M312 517.5h4M314.5 515v4M310 521.5h4M312.5 519v4M316 523.5h4M318.5 521v4M313 531.5h4M315.5 529v4M331 534.5h4M333.5 532v4M331 544.5h4M333.5 542v4M351 538.5h4M353.5 536v4M354 541.5h4M356.5 539v4M315 543.5h4M317.5 541v4M311 545.5h4M313.5 543v4M377 519.5h4M379.5 517v4M376 528.5h4M378.5 526v4M365 534.5h4M367.5 532v4M374 533.5h4M376.5 531v4M377 535.5h4M379.5 533v4M384 535.5h4M386.5 533v4M388 537.5h4M390.5 535v4M369 553.5h4M371.5 551v4M365 560.5h4M367.5 558v4M362 562.5h4M364.5 560v4M361 569.5h4M363.5 567v4M422 578.5h4M424.5 576v4M441 500.5h4M443.5 498v4M482 478.5h4M484.5 476v4M484 496.5h4M486.5 494v4M485 503.5h4M487.5 501v4M511 491.5h4M513.5 489v4M431 517.5h4M433.5 515v4M432 534.5h4M434.5 532v4M449 531.5h4M451.5 529v4M430 560.5h4M432.5 558v4M469 568.5h4M471.5 566v4M468 594.5h4M470.5 592v4M433 594.5h4M435.5 592v4M439 600.5h4M441.5 598v4M436 602.5h4M438.5 600v4M423 578.5h4M425.5 576v4M430 583.5h4M432.5 581v4M455 605.5h4M457.5 603v4M458 606.5h4M460.5 604v4M476 606.5h4M478.5 604v4M488 606.5h4M490.5 604v4M499 607.5h4M501.5 605v4" stroke="#0f0" stroke-width="1" fill="none"/>
<path d="M127 475.5h4M129.5 473v4M214 484.5h4M216.5 482v4M231 481.5h4M233.5 479v4M274 487.5h4M276.5 485v4M249 505.5h4M251.5 503v4M302 489.5h4M304.5 487v4M90 547.5h4M92.5 545v4M132 542.5h4M134.5 540v4M218 571.5h4M220.5 569v4M233 592.5h4M235.5 590v4M279 529.5h4M281.5 527v4M311 552.5h4M313.5 550v4M373 400.5h4M375.5 398v4M405 403.5h4M407.5 401v4M377 411.5h4M379.5 409v4M335 412.5h4M337.5 410v4M333 416.5h4M335.5 414v4M393 418.5h4M395.5 416v4M316 425.5h4M318.5 423v4M340 426.5h4M342.5 424v4M334 436.5h4M336.5 434v4M361 431.5h4M363.5 429v4M355 444.5h4M357.5 442v4M364 442.5h4M366.5 440v4M336 445.5h4M338.5 443v4M333 448.5h4M335.5 446v4M353 457.5h4M355.5 455v4M334 463.5h4M336.5 461v4M330 471.5h4M332.5 469v4M334 473.5h4M336.5 471v4M339 476.5h4M341.5 474v4M353 472.5h4M355.5 470v4M360 470.5h4M362.5 468v4M364 475.5h4M366.5 473v4M360 479.5h4M362.5 477v4M365 482.5h4M367.5 480v4M363 486.5h4M365.5 484v4M366 465.5h4M368.5 463v4M375 460.5h4M377.5 458v4M375 471.5h4M377.5 469v4M372 475.5h4M374.5 473v4M387 474.5h4M389.5 472v4M375 481.5h4M377.5 479v4M375 483.5h4M377.5 481v4M380 486.5h4M382.5 484v4M372 491.5h4M374.5 489v4M378 497.5h4M380.5 495v4M373 499.5h4M375.5 497v4M375 504.5h4M377.5 502v4M361 498.5h4M363.5 496v4M357 501.5h4M359.5 499v4M333 487.5h4M335.5 485v4M330 492.5h4M332.5 490v4M327 502.5h4M329.5 500v4M334 501.5h4M336.5 499v4M315 484.5h4M317.5 482v4M302 489.5h4M304.5 487v4M316 490.5h4M318.5 488v4M316 510.5h4M318.5 508v4M310 511.5h4M312.5 509v4M311 489.5h4M313.5 487v4M313 491.5h4M315.5 489v4M310 492.5h4M312.5 490v4M312 493.5h4M314.5 491v4M311 495.5h4M313.5 493v4M313 496.5h4M315.5 494v4M310 497.5h4M312.5 495v4M312 498.5h4M314.5 496v4M311 500.5h4M313.5 498v4M310 501.5h4M312.5 499v4M312 502.5h4M314.5 500v4M311 503.5h4M313.5 501v4M309 502.5h4M311.5 500v4M313 494.5h4M315.5 492v4M314 492.5h4M316.5 490v4M316 490.5h4M318.5 488v4M306 495.5h4M308.5 493v4M316 503.5h4M318.5 501v4M316 509.5h4M318.5 507v4M327 502.5h4M329.5 500v4M311 507.5h4M313.5 505v4M310 510.5h4M312.5 508v4M316 509.5h4M318.5 507v4M309 513.5h4M311.5 511v4M315 513.5h4M317.5 511v4M321 514.5h4M323.5 512v4M343 517.5h4M345.5 515v4M312 522.5h4M314.5 520v4M316 525.5h4M318.5 523v4M312 528.5h4M314.5 526v4M312 534.5h4M314.5 532v4M311 542.5h4M313.5 540v4M315 542.5h4M317.5 540v4M317 544.5h4M319.5 542v4M312 546.5h4M314.5 544v4M311 553.5h4M313.5 551v4M326 544.5h4M328.5 542v4M327 548.5h4M329.5 546v4M327 556.5h4M329.5 554v4M341 555.5h4M343.5 553v4M375 507.5h4M377.5 505v4M374 515.5h4M376.5 513v4M377 521.5h4M379.5 519v4M366 524.5h4M368.5 522v4M376 525.5h4M378.5 523v4M371 532.5h4M373.5 530v4M371 536.5h4M373.5 534v4M385 534.5h4M387.5 532v4M368 544.5h4M370.5 542v4M389 546.5h4M391.5 544v4M363 547.5h4M365.5 545v4M363 550.5h4M365.5 548v4M366 553.5h4M368.5 551v4M363 555.5h4M365.5 553v4M370 555.5h4M372.5 553v4M379 553.5h4M381.5 551v4M378 557.5h4M380.5 555v4M363 561.5h4M365.5 559v4M365 564.5h4M367.5 562v4M360 565.5h4M362.5 563v4M370 571.5h4M372.5 569v4M364 571.5h4M366.5 569v4M362 552.5h4M364.5 550v4M365 556.5h4M367.5 554v4M361 563.5h4M363.5 561v4M363 567.5h4M365.5 565v4M505 463.5h4M507.5 461v4M510 475.5h4M512.5 473v4M484 498.5h4M486.5 496v4M485 501.5h4M487.5 499v4M432 515.5h4M434.5 513v4M473 564.5h4M475.5 562v4" stroke="#00f" stroke-width="1" fill="none"/>
<path d="M90 156H100M95 150V161" stroke="#000" stroke-width="2" fill="none"/>
<path d="M120 156H130M125 150V161" stroke="#f00" stroke-width="2" fill="none"/>
<path d="M150 156H160M155 150V161" stroke="#0f0" stroke-width="2" fill="none"/>
<path d="M180 156H190M185 150V161" stroke="#00f" stroke-width="2" fill="none"/>
<rect x="86.5" y="40.5" width="156" height="20" fill="#fff" stroke="#000" stroke-width="1" shape-rendering="crispEdges"/>
<g shape-rendering="auto" text-rendering="geometricPrecision" filter="url(#th)">
<text class="c" transform="translate(0,56) scale(0.9,1)" x="459.68 474.91 487.61 501.58 516.03 528.72 537.14 550.94 564.27 578.89 592.55 598.25 610.94 624.91 639.36 652.37 666.03 679.04 693.16" y="0" font-size="20.5">Topography ap00237k</text>
<text class="c" transform="translate(0,56) scale(0.9,1)" x="983.33 996.37 1003.04 1017.48 1023.87 1028.88 1042.77 1053.88 1065.26 1071.10" y="0" font-size="18">V.E. 100:1</text>
<text class="c" transform="translate(0,163) scale(0.9,1)" x="226.37 244.71 260.82 274.44 288.32 293.32 307.49 312.49 325.55 330.55 343.61 348.61" y="0" font-size="18">MOLA 1 2 3 4</text>
<text class="s" x="90.3" y="56" font-size="15" letter-spacing="1.13">MOLA Science Team</text>
<text x="29.38 35.75 49.38" y="713.5" font-size="20">-10</text>
<text x="61" y="613.5" font-size="20" letter-spacing="1" text-anchor="end">-5</text>
<text x="61" y="513.5" font-size="20" letter-spacing="1" text-anchor="end">0</text>
<text x="61" y="413.5" font-size="20" letter-spacing="1" text-anchor="end">5</text>
<text x="35.75 49.38" y="313.5" font-size="20">10</text>
<text x="35.75 49.38" y="213.5" font-size="20">15</text>
<text x="61" y="113.5" font-size="20" letter-spacing="1" text-anchor="end">20</text>
<text x="73.8" y="734" font-size="20" letter-spacing="1" text-anchor="middle">0</text>
<text x="253.8" y="734" font-size="20" letter-spacing="1" text-anchor="middle">300</text>
<text x="433.8" y="734" font-size="20" letter-spacing="1" text-anchor="middle">600</text>
<text x="613.8" y="734" font-size="20" letter-spacing="1" text-anchor="middle">900</text>
<text x="767.75 782.06 794.38 806.38" y="734" font-size="20">1200</text>
<text x="947.75 962.38 974.38 986.38" y="734" font-size="20">1500</text>
<text class="c" transform="translate(0,760) scale(0.87,1)" x="420.69 427.28 433.03 457.89 476.29 482.76 489.35 499.27 514.64 541.44 547.91 562.07 569.39 584.75 596.55 605.44 611.92 627.59 635.75 642.22 659.04 675.50 690.44 702.78 713.85 720.33 734.90 749.85 764.79 780.15 796.97 813.43" y="0" font-size="23.3">time from start of pass, seconds</text>
<text class="c" transform="translate(24,0) rotate(-90) scale(0.87,1)" x="-519.54 -512.22 -496.86 -480.04 -463.95 -448.58 -438.66 -423.30 -407.20 -389.66 -377.68 -367.70 -361.23 -346.28" y="0" font-size="23.3">topography, km</text>
</g>
<path d="M927 54h3v1h-3zM932 54h2v1h-2zM965 54h3v1h-3zM970 54h2v1h-2zM927 55h3v1h-3zM932 55h2v1h-2zM965 55h3v1h-3zM970 55h2v1h-2zM265 161h3v1h-3zM270 161h2v1h-2zM265 162h3v1h-3zM270 162h2v1h-2zM38 212h3v1h-3zM43 212h3v1h-3zM37 213h4v1h-4zM43 213h3v1h-3zM38 312h3v1h-3zM43 312h3v1h-3zM37 313h4v1h-4zM43 313h3v1h-3zM38 712h3v1h-3zM43 712h3v1h-3zM37 713h4v1h-4zM43 713h3v1h-3zM770 732h3v1h-3zM775 732h3v1h-3zM950 732h3v1h-3zM955 732h3v1h-3zM769 733h4v1h-4zM775 733h3v1h-3zM949 733h4v1h-4zM955 733h3v1h-3z" fill="#fff" stroke="none"/>
</svg></body></html>
